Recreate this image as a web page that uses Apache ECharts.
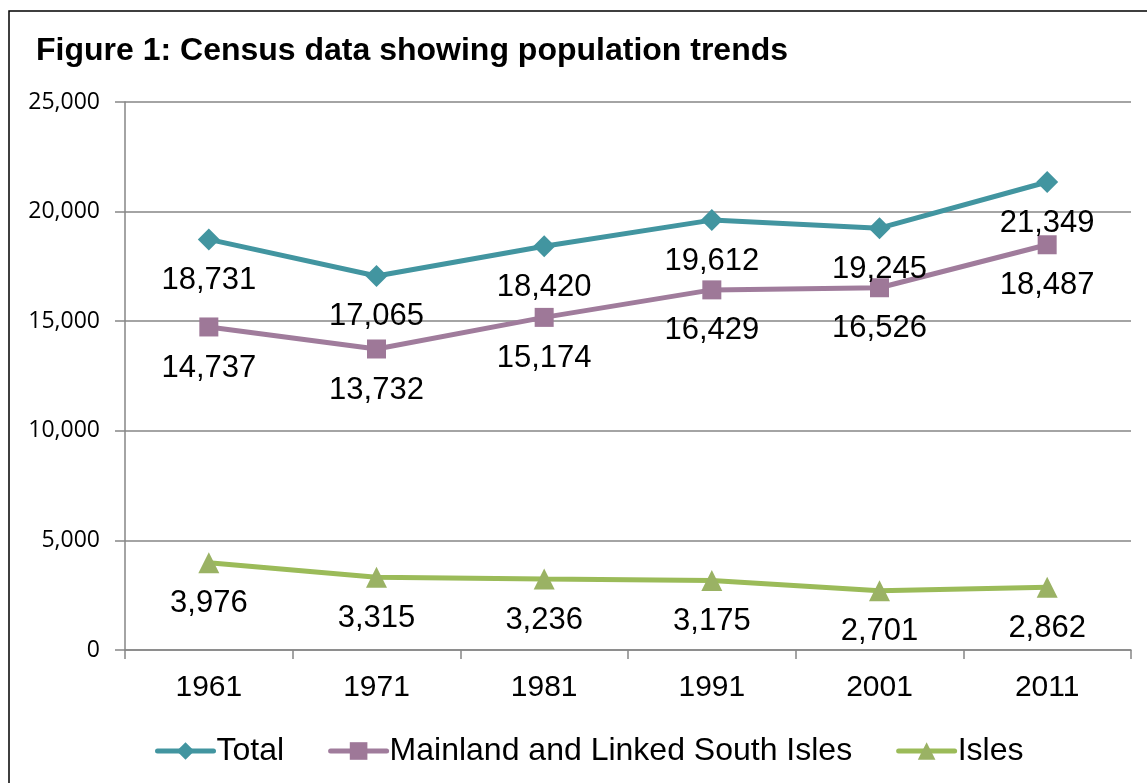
<!DOCTYPE html>
<html>
<head>
<meta charset="utf-8">
<script src="https://cdn.jsdelivr.net/npm/echarts@6/dist/echarts.min.js"></script>
<style>
html,body{margin:0;padding:0;background:#fff;}
#chart{width:1147px;height:783px;}
</style>
</head>
<body>
<div id="chart"></div>
<script>
var categories = ['1961', '1971', '1981', '1991', '2001', '2011'];
var totalValues = [18731, 17065, 18420, 19612, 19245, 21349];
var mainlandValues = [14737, 13732, 15174, 16429, 16526, 18487];
var islesValues = [3976, 3315, 3236, 3175, 2701, 2862];
var seriesNames = ['Total', 'Mainland and Linked South Isles', 'Isles'];

function fmt(v) {
  return String(v).replace(/\B(?=(\d{3})+(?!\d))/g, ',');
}

var labelStyle = {
  show: true,
  position: 'inside',
  offset: [0, 41],
  color: '#000',
  fontFamily: 'Liberation Sans, Arial, sans-serif',
  fontSize: 31,
  formatter: function (p) { return fmt(p.value); }
};

var chart = echarts.init(document.getElementById('chart'), null, {renderer: 'canvas'});
chart.setOption({
  backgroundColor: '#fff',
  animation: false,
  title: {
    text: 'Figure 1: Census data showing population trends',
    left: 31,
    top: 30,
    textStyle: {
      fontFamily: 'Liberation Sans, Arial, sans-serif',
      fontWeight: 'bold',
      fontSize: 32,
      color: '#000'
    }
  },
  graphic: [{
    type: 'rect',
    shape: {x: 9, y: 11, width: 1400, height: 1000},
    style: {fill: null, stroke: '#000', lineWidth: 1.5},
    silent: true
  }],
  legend: {
    left: 150,
    top: 730,
    itemWidth: 56,
    itemHeight: 22,
    itemGap: 44,
    lineStyle: {width: 5, cap: 'round'},
    textStyle: {
      fontFamily: 'Liberation Sans, Arial, sans-serif',
      fontSize: 32,
      color: '#000',
      padding: [0, 0, 0, -2]
    },
    data: seriesNames
  },
  grid: {left: 125, right: 16, top: 102, bottom: 133, containLabel: false},
  xAxis: {
    type: 'category',
    data: categories,
    boundaryGap: true,
    axisLine: {lineStyle: {color: '#868686', width: 1.5}},
    axisTick: {show: true, length: 9, lineStyle: {color: '#868686', width: 1.5}},
    axisLabel: {
      margin: 23,
      color: '#000',
      fontFamily: 'Liberation Sans, Arial, sans-serif',
      fontSize: 30
    }
  },
  yAxis: {
    type: 'value',
    min: 0,
    max: 25000,
    interval: 5000,
    axisLine: {show: true, lineStyle: {color: '#868686', width: 1.5}},
    axisTick: {show: true, length: 10, lineStyle: {color: '#868686', width: 1.5}},
    splitLine: {lineStyle: {color: '#868686', width: 1.5}},
    axisLabel: {
      margin: 25,
      color: '#000',
      fontFamily: 'Open Sans, sans-serif',
      fontSize: 23,
      formatter: function (v) { return fmt(v); }
    }
  },
  series: [
    {
      name: seriesNames[0],
      type: 'line',
      data: totalValues,
      symbol: 'diamond',
      symbolSize: 22,
      lineStyle: {color: '#4295A0', width: 5},
      itemStyle: {color: '#4295A0'},
      label: labelStyle
    },
    {
      name: seriesNames[1],
      type: 'line',
      data: mainlandValues,
      symbol: 'rect',
      symbolSize: 19,
      lineStyle: {color: '#A07C9C', width: 5},
      itemStyle: {color: '#9E7898'},
      label: labelStyle
    },
    {
      name: seriesNames[2],
      type: 'line',
      data: islesValues,
      symbol: 'triangle',
      symbolSize: 21,
      lineStyle: {color: '#9BBB59', width: 5},
      itemStyle: {color: '#9AB264'},
      label: labelStyle
    }
  ]
});
</script>
</body>
</html>
